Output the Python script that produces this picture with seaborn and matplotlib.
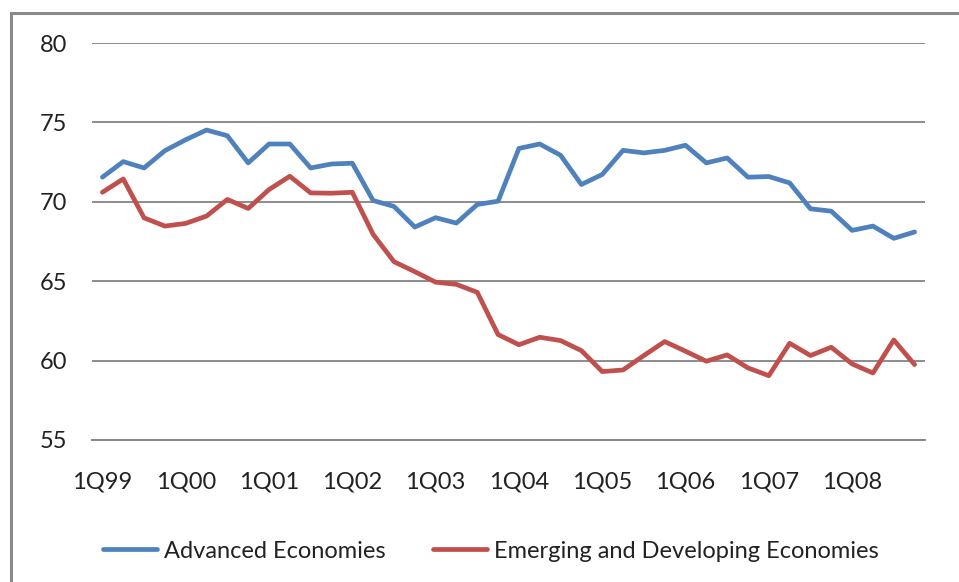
import matplotlib
matplotlib.use("Agg")
import matplotlib.pyplot as plt
import seaborn as sns
import pandas as pd
import numpy as np
from matplotlib.patches import Rectangle

quarters = [f"{q}Q{y:02d}" for y in [99, 0, 1, 2, 3, 4, 5, 6, 7, 8] for q in (1, 2, 3, 4)]
tick_labels = ["1Q99", "1Q00", "1Q01", "1Q02", "1Q03", "1Q04", "1Q05", "1Q06", "1Q07", "1Q08"]

advanced = [71.55, 72.53, 72.13, 73.22, 73.91, 74.52, 74.16, 72.45, 73.64, 73.64,
            72.13, 72.38, 72.43, 70.08, 69.71, 68.41, 69.00, 68.66, 69.83, 70.04,
            73.36, 73.64, 72.93, 71.09, 71.72, 73.24, 73.08, 73.24, 73.56, 72.45,
            72.76, 71.55, 71.59, 71.19, 69.56, 69.41, 68.20, 68.47, 67.70, 68.10]
emerging = [70.60, 71.44, 68.99, 68.47, 68.64, 69.10, 70.15, 69.58, 70.77, 71.61,
            70.56, 70.54, 70.60, 67.95, 66.23, 65.60, 64.94, 64.80, 64.30, 61.64,
            61.00, 61.47, 61.26, 60.63, 59.31, 59.41, 60.32, 61.20, 60.59, 59.96,
            60.36, 59.54, 59.05, 61.09, 60.32, 60.84, 59.79, 59.22, 61.30, 59.75]
series_names = ["Advanced Economies", "Emerging and Developing Economies"]
colors = ["#4F81BD", "#C0504D"]

df = pd.DataFrame({
    "idx": list(range(len(quarters))) * 2,
    "quarter": quarters * 2,
    "value": advanced + emerging,
    "series": [series_names[0]] * len(quarters) + [series_names[1]] * len(quarters),
})

sns.set_theme(style="white")
plt.rcParams["font.family"] = ["Lato", "DejaVu Sans"]

fig = plt.figure(figsize=(9.59, 5.82), dpi=100)
ax = fig.add_axes([92 / 959, 1 - 440 / 582, (925 - 92) / 959, (440 - 43) / 582])

sns.lineplot(data=df, x="idx", y="value", hue="series", palette=colors,
             linewidth=3.4, ax=ax, legend=False, sort=False)

n = len(quarters)
ax.set_xlim(-0.5, n - 0.5)
ax.set_ylim(55, 80)
ax.set_yticks([55, 60, 65, 70, 75, 80])
ax.set_xticks([quarters.index(t) for t in tick_labels])
ax.set_xticklabels(tick_labels)
ax.set_xticks(np.arange(-0.5, n, 1.0), minor=True)
ax.tick_params(axis="x", which="major", length=0, pad=23, labelsize=17, colors="#222222")
ax.tick_params(axis="x", which="minor", length=6, width=1.2, color="#868686", direction="out")
ax.tick_params(axis="y", length=0, pad=18, labelsize=17, colors="#222222")
ax.set_xlabel("")
ax.set_ylabel("")
ax.yaxis.grid(True, color="#8c8c8c", linewidth=1.4)
ax.set_axisbelow(True)
for s in ["top", "right", "left"]:
    ax.spines[s].set_visible(False)
ax.spines["bottom"].set_color("#868686")
ax.spines["bottom"].set_linewidth(1.4)

# outer frame
fig.patches.append(Rectangle((11 / 959, -0.05), 1.2, 1 - 13 / 582 + 0.05, transform=fig.transFigure,
                             fill=False, edgecolor="#8a8a8a", linewidth=2.2))

handles = [plt.Line2D([], [], color=c, linewidth=3.4) for c in colors]
fig.legend(handles, series_names, loc="center", bbox_to_anchor=(0.512, 1 - 551 / 582),
           ncol=2, frameon=False, fontsize=17, handlelength=2.3, handletextpad=0.3,
           columnspacing=2.0, labelcolor="#222222")

fig.savefig("out.png", dpi=100)
